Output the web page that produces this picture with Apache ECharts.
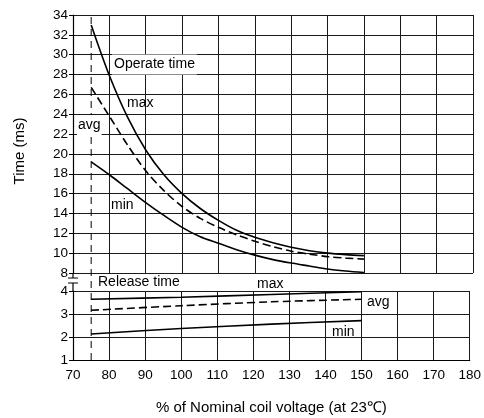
<!DOCTYPE html>
<html>
<head>
<meta charset="utf-8">
<script src="https://cdn.jsdelivr.net/npm/echarts@6/dist/echarts.min.js"></script>
<style>
html,body{margin:0;padding:0;background:#fff;}
#c{width:484px;height:418px;}
</style>
</head>
<body>
<div id="c"></div>
<script>
// ---- data ----
const operateVoltage = [75, 80, 85, 90, 95, 100, 105, 110, 115, 120, 125, 130, 135, 140, 145, 150];
const operateMax = [33.0, 27.9, 23.7, 20.4, 17.9, 16.0, 14.5, 13.3, 12.3, 11.6, 11.05, 10.6, 10.25, 10.0, 9.85, 9.75];
const operateAvg = [26.7, 23.8, 20.9, 18.3, 16.3, 14.7, 13.5, 12.6, 11.85, 11.2, 10.65, 10.2, 9.9, 9.65, 9.5, 9.4];
const operateMin = [19.2, 17.9, 16.5, 15.1, 13.8, 12.6, 11.65, 11.0, 10.35, 9.8, 9.35, 9.0, 8.7, 8.4, 8.2, 8.05];

const releaseVoltage = [75, 100, 125, 150];
const releaseMax = [3.64, 3.73, 3.85, 3.97];
const releaseAvg = [3.16, 3.36, 3.53, 3.64];
const releaseMin = [2.13, 2.37, 2.56, 2.71];

const markerVoltage = [75, 75];
const markerSpan = [0, 1];

const xTicks = [70, 80, 90, 100, 110, 120, 130, 140, 150, 160, 170, 180];
const upperTicks = [8, 10, 12, 14, 16, 18, 20, 22, 24, 26, 28, 30, 32, 34];
const lowerTicks = [1, 2, 3, 4];

const labels = {
  operate: 'Operate time', release: 'Release time',
  max: 'max', avg: 'avg', min: 'min',
  yName: 'Time (ms)', xName: '% of Nominal coil voltage (at 23℃)'
};

const zip = (xs, ys) => xs.map((x, i) => [x, ys[i]]);

const FONT = '"Liberation Sans", Arial, sans-serif';
const GRID = '#1a1a1a';
const TICK_FS = 13.5;
const NOTE_FS = 14;

const chart = echarts.init(document.getElementById('c'), null, {renderer: 'canvas'});

function xAxis(gridIndex, showLabels) {
  return {
    type: 'value', gridIndex, min: xTicks[0], max: xTicks[xTicks.length - 1], interval: 10,
    axisLine: {show: showLabels, lineStyle: {color: '#000', width: 1.2}},
    axisTick: {show: false},
    axisLabel: {show: showLabels, color: '#000', fontSize: TICK_FS, fontFamily: FONT, margin: 8},
    splitLine: {show: true, lineStyle: {color: GRID, width: 1}},
    name: showLabels ? labels.xName : '',
    nameLocation: 'middle', nameGap: 40,
    nameTextStyle: {color: '#000', fontSize: 15, fontFamily: FONT}
  };
}
function yAxis(gridIndex, ticks, step) {
  return {
    type: 'value', gridIndex, min: ticks[0], max: ticks[ticks.length - 1], interval: step,
    axisLine: {show: true, lineStyle: {color: '#000', width: 1.2}},
    axisTick: {show: true, length: 4, lineStyle: {color: '#000'}},
    axisLabel: {color: '#000', fontSize: TICK_FS, fontFamily: FONT, margin: 5},
    splitLine: {show: true, lineStyle: {color: GRID, width: 1}}
  };
}

function line(name, xi, yi, data, dashed) {
  return {
    name, type: 'line', xAxisIndex: xi, yAxisIndex: yi, data,
    smooth: 0.3, symbol: 'none', silent: true,
    lineStyle: {color: '#000', width: 1.6, type: dashed ? [8, 4] : 'solid'},
    z: 5
  };
}

const txt = (text, x, y, opts = {}) => ({
  type: 'text', x, y, z: 100,
  style: Object.assign({
    text, fill: '#000', fontSize: NOTE_FS, fontFamily: FONT,
    textVerticalAlign: 'middle'
  }, opts)
});

chart.setOption({
  animation: false,
  backgroundColor: '#fff',
  grid: [
    {left: 73, width: 400, top: 15, height: 258},
    {left: 73, width: 400, top: 291, height: 69},
    {left: 73, width: 400, top: 15, height: 345}
  ],
  xAxis: [
    xAxis(0, false),
    xAxis(1, true),
    {type: 'value', gridIndex: 2, min: xTicks[0], max: xTicks[xTicks.length - 1], show: false}
  ],
  yAxis: [
    yAxis(0, upperTicks, 2),
    yAxis(1, lowerTicks, 1),
    {type: 'value', gridIndex: 2, min: 0, max: 1, show: false}
  ],
  series: [
    line('Operate max', 0, 0, zip(operateVoltage, operateMax), false),
    line('Operate avg', 0, 0, zip(operateVoltage, operateAvg), true),
    line('Operate min', 0, 0, zip(operateVoltage, operateMin), false),
    line('Release max', 1, 1, zip(releaseVoltage, releaseMax), false),
    line('Release avg', 1, 1, zip(releaseVoltage, releaseAvg), true),
    line('Release min', 1, 1, zip(releaseVoltage, releaseMin), false),
    {
      name: 'marker', type: 'line', xAxisIndex: 2, yAxisIndex: 2,
      data: zip(markerVoltage, markerSpan), symbol: 'none', silent: true,
      lineStyle: {color: '#000', width: 1, type: [7, 5]}, z: 4
    }
  ],
  graphic: [
    txt(labels.operate, 112, 64.5, {backgroundColor: '#fff', padding: [3, 2]}),
    txt(labels.max, 127, 103),
    txt(labels.avg, 77, 125, {backgroundColor: '#fff', padding: [3, 1]}),
    txt(labels.min, 111, 205),
    txt(labels.release, 98, 282.5),
    txt(labels.max, 257, 284),
    txt(labels.avg, 367, 302.5),
    txt(labels.min, 332, 332),
    {
      type: 'text', z: 100, x: 20, y: 151, rotation: Math.PI / 2,
      style: {text: labels.yName, fill: '#000', fontSize: 15, fontFamily: FONT,
              textAlign: 'center', textVerticalAlign: 'middle'}
    },
    {type: 'line', z: 100, shape: {x1: 73, y1: 273, x2: 73, y2: 278}, style: {stroke: '#000', lineWidth: 1.2}},
    {type: 'line', z: 100, shape: {x1: 73, y1: 283, x2: 73, y2: 291}, style: {stroke: '#000', lineWidth: 1.2}},
    {type: 'line', z: 100, shape: {x1: 68, y1: 278, x2: 78, y2: 278}, style: {stroke: '#000', lineWidth: 1}},
    {type: 'line', z: 100, shape: {x1: 68, y1: 283, x2: 78, y2: 283}, style: {stroke: '#000', lineWidth: 1}}
  ]
});
</script>
</body>
</html>
